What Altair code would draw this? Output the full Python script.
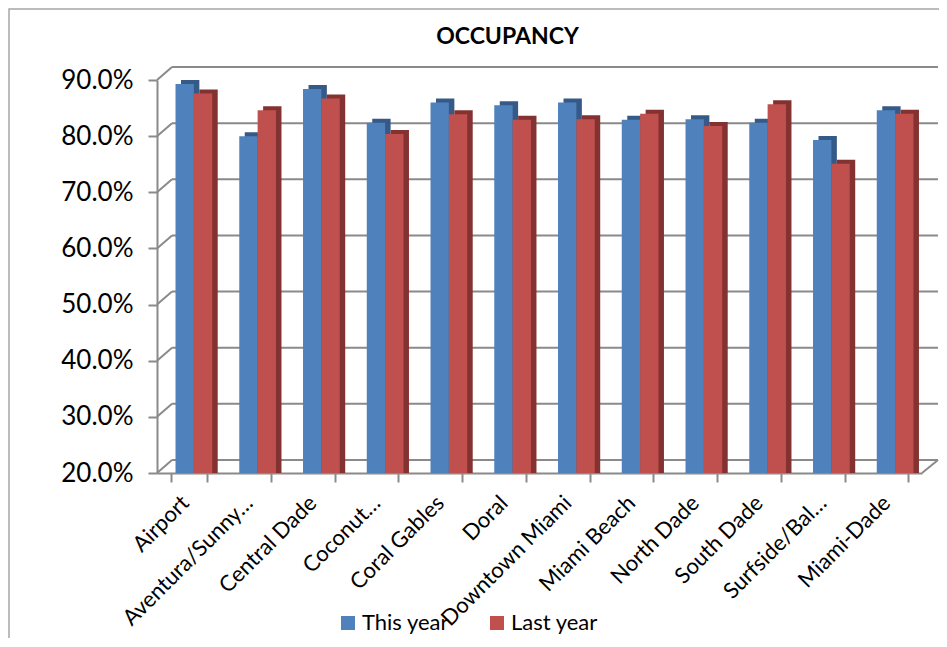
import altair as alt
import pandas as pd

categories = ["Airport", "Aventura/Sunny…", "Central Dade", "Coconut…", "Coral Gables",
              "Doral", "Downtown Miami", "Miami Beach", "North Dade", "South Dade",
              "Surfside/Bal…", "Miami-Dade"]
this_year = [89.3, 80.0, 88.4, 82.4, 86.0, 85.5, 86.0, 82.9, 83.0, 82.4, 79.3, 84.6]
last_year = [87.6, 84.6, 86.7, 80.4, 83.9, 82.9, 83.0, 84.0, 81.8, 85.7, 75.1, 84.0]
series_names = ["This year", "Last year"]
grid_values = [20, 30, 40, 50, 60, 70, 80, 90]

rows = []
for c, a, b in zip(categories, this_year, last_year):
    rows.append({"area": c, "series": "This year", "value": a})
    rows.append({"area": c, "series": "Last year", "value": b})
df = pd.DataFrame(rows)
grid_df = pd.DataFrame({"v": grid_values})
floor_df = pd.DataFrame({"v": [grid_values[0]]})
frame_df = pd.DataFrame({"k": [0]})

W, H = 765, 393
FONT = "Lato"
GRID = "#8a8a8a"
DX, DY = 15, -13
PAIR = 36.7

xscale = alt.Scale(paddingInner=0.424, paddingOuter=0.212)
yscale = alt.Scale(domain=[20, 90], nice=False, zero=False)

x_axis = alt.Axis(title=None, labelAngle=-45, labelFont=FONT, labelFontSize=22,
                  labelColor="black", domainColor=GRID, domainWidth=2,
                  tickColor=GRID, tickWidth=2, tickSize=9, tickBand="extent",
                  labelPadding=10, labelOffset=-11, grid=False, labelLimit=300)
y_axis = alt.Axis(title=None, values=grid_values, labelFont=FONT, labelFontSize=26,
                  labelColor="black", domainColor=GRID, domainWidth=2,
                  tickColor=GRID, tickWidth=2, tickSize=9, labelPadding=15,
                  grid=False, labelExpr="format(datum.value, '.1f') + '%'")

back_grid = alt.Chart(grid_df).mark_rule(color=GRID, strokeWidth=2, yOffset=DY).encode(
    y=alt.Y("v:Q", scale=yscale, axis=y_axis),
    x=alt.value(DX), x2=alt.value(W + 16),
)
side_diag = alt.Chart(grid_df).mark_rule(color=GRID, strokeWidth=2, y2Offset=DY).encode(
    y=alt.Y("v:Q", scale=yscale, axis=y_axis), y2="v:Q",
    x=alt.value(0), x2=alt.value(DX),
)
floor_diag = alt.Chart(floor_df).mark_rule(color=GRID, strokeWidth=2, y2Offset=DY).encode(
    y=alt.Y("v:Q", scale=yscale, axis=y_axis), y2="v:Q",
    x=alt.value(W), x2=alt.value(W + 16),
)

shadow = alt.Chart(df).mark_bar(yOffset=-4).encode(
    x=alt.X("area:N", sort=categories, scale=xscale, axis=x_axis),
    xOffset=alt.XOffset("series:N", sort=series_names,
                        scale=alt.Scale(domain=series_names, range=[10.5, 10.5 + PAIR],
                                        paddingInner=0, paddingOuter=0)),
    y=alt.Y("value:Q", scale=yscale, axis=y_axis),
    y2=alt.datum(20),
    color=alt.Color("series:N", scale=alt.Scale(domain=series_names,
                                                range=["#365a87", "#843231"]),
                    legend=None),
)

front = alt.Chart(df).mark_bar().encode(
    x=alt.X("area:N", sort=categories, scale=xscale, axis=x_axis),
    xOffset=alt.XOffset("series:N", sort=series_names,
                        scale=alt.Scale(domain=series_names, range=[5, 5 + PAIR],
                                        paddingInner=0, paddingOuter=0)),
    y=alt.Y("value:Q", scale=yscale, axis=y_axis),
    y2=alt.datum(20),
    color=alt.Color("series:N", scale=alt.Scale(domain=series_names,
                                                range=["#4f81bd", "#c0504d"]),
                    legend=alt.Legend(orient="none", legendX=180, legendY=532,
                                      direction="horizontal", title=None,
                                      symbolType="square", symbolSize=196,
                                      symbolStrokeWidth=0, symbolOpacity=1,
                                      labelFont=FONT, labelFontSize=22,
                                      labelColor="black", labelOffset=3,
                                      columnPadding=36)),
)

frame = alt.Chart(frame_df).mark_rect(fill="transparent", stroke="#a6a6a6",
                                       strokeWidth=1.5).encode(
    x=alt.value(-148), x2=alt.value(W + 200),
    y=alt.value(-71), y2=alt.value(H + 300),
)

chart = alt.layer(frame, back_grid, side_diag, floor_diag, shadow, front).resolve_scale(
    color="independent", xOffset="independent"
).properties(
    width=W, height=H,
    title=alt.TitleParams("OCCUPANCY", font=FONT, fontSize=23, fontWeight="bold",
                          color="black", anchor="middle", frame="group", dx=-32,
                          offset=-41),
    autosize=alt.AutoSizeParams(type="none"),
    padding={"left": 149, "top": 72, "right": 17, "bottom": 165},
    background="white",
).configure_view(stroke=None)

chart.save("out.html", embed_options={"renderer": "svg", "actions": False})
